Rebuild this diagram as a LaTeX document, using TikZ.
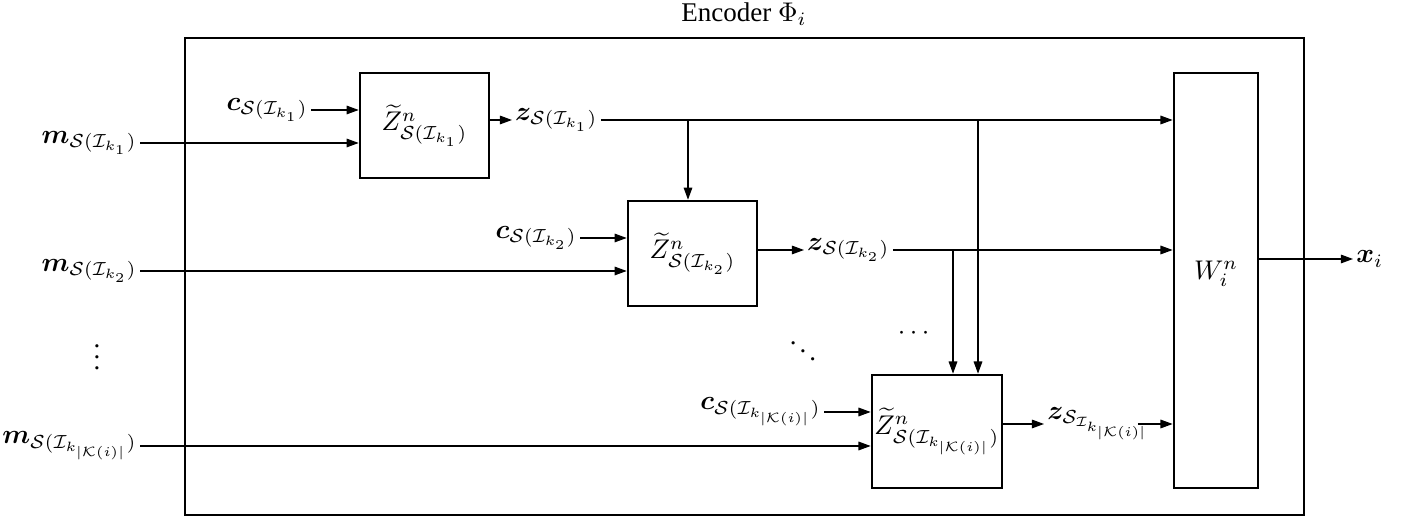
\documentclass[tikz,border=0pt]{standalone}
\usepackage{amsmath,amssymb,bm}
\usepackage{fontspec}
\setmainfont{Liberation Serif}
\usetikzlibrary{arrows.meta}

\begin{document}
\begin{tikzpicture}[x=0.37pt,y=-0.37pt,
    blk/.style={draw,line width=1pt,inner sep=0pt},
    lbl/.style={inner sep=1pt},
    arr/.style={-{Triangle[length=4.5pt,width=3.2pt]}}]
  \useasboundingbox (0,0) rectangle (1415,516);

  % outer encoder frame
  \draw[line width=1pt] (185,38) rectangle (1304,515);
  \node (enc) at (744,14) {Encoder $\Phi_i$};

  % blocks
  \node[blk,minimum width=47.7pt,minimum height=38.8pt] (b1) at (424.5,125.5)
    {$\widetilde{Z}^n_{\mathcal{S}(\mathcal{I}_{k_1})}$};
  \node[blk,minimum width=47.7pt,minimum height=38.8pt] (b2) at (692.5,253.5)
    {$\widetilde{Z}^n_{\mathcal{S}(\mathcal{I}_{k_2})}$};
  \node[blk,minimum width=48.1pt,minimum height=41.8pt] (b3) at (937,431.5)
    {$\widetilde{Z}^n_{\mathcal{S}(\mathcal{I}_{k_{|\mathcal{K}(i)|}})}$};
  \node[blk,minimum width=31.1pt,minimum height=153.5pt] (w) at (1216,280.5) {};
  \node (wl) at (1216,274) {$W^n_i$};

  % inputs
  \node[lbl,anchor=east] (m1) at (140,143) {$\bm{m}_{\mathcal{S}(\mathcal{I}_{k_1})}$};
  \node[lbl,anchor=east] (m2) at (140,271) {$\bm{m}_{\mathcal{S}(\mathcal{I}_{k_2})}$};
  \node[lbl,anchor=east] (m3) at (140,446) {$\bm{m}_{\mathcal{S}(\mathcal{I}_{k_{|\mathcal{K}(i)|}})}$};
  \node (vd) at (97,349) {$\vdots$};
  \node[lbl,anchor=east] (c1) at (311,110) {$\bm{c}_{\mathcal{S}(\mathcal{I}_{k_1})}$};
  \node[lbl,anchor=east] (c2) at (580,238) {$\bm{c}_{\mathcal{S}(\mathcal{I}_{k_2})}$};
  \node[lbl,anchor=east] (c3) at (824,412) {$\bm{c}_{\mathcal{S}(\mathcal{I}_{k_{|\mathcal{K}(i)|}})}$};

  % outputs
  \node[lbl,anchor=west] (z1) at (512,120) {$\bm{z}_{\mathcal{S}(\mathcal{I}_{k_1})}$};
  \node[lbl,anchor=west] (z2) at (804,250) {$\bm{z}_{\mathcal{S}(\mathcal{I}_{k_2})}$};
  \node[lbl,anchor=west] (z3) at (1044,424) {$\bm{z}_{\mathcal{S}_{\mathcal{I}_{k_{|\mathcal{K}(i)|}}}}$};
  \node[lbl,anchor=west] (x) at (1353,259) {$\bm{x}_i$};
  \node (dd) at (803,343) {$\ddots$};
  \node (cd) at (916,334) {$\cdots$};

  % connectors
  \draw[arr] (m1.east) -- (m1.east -| b1.west);
  \draw[arr] (m2.east) -- (m2.east -| b2.west);
  \draw[arr] (m3.east) -- (m3.east -| b3.west);
  \draw[arr] (c1.east) -- (c1.east -| b1.west);
  \draw[arr] (c2.east) -- (c2.east -| b2.west);
  \draw[arr] (c3.east) -- (c3.east -| b3.west);

  \draw[arr] (z1.west -| b1.east) -- (z1.west);
  \draw[arr] (z2.west -| b2.east) -- (z2.west);
  \draw[arr] (z3.west -| b3.east) -- (z3.west);
  \draw[arr] (z1.east) -- (z1.east -| w.west);
  \draw[arr] (z2.east) -- (z2.east -| w.west);
  \draw[arr] ([xshift=-6pt]z3.east) -- (z3.east -| w.west);
  \draw[arr] (w.east |- x.west) -- (x.west);

  % feedback branches
  \coordinate (t1) at (688,120);
  \coordinate (t2) at (978,120);
  \coordinate (t3) at (953,250);
  \draw[arr] (t1 |- z1.east) -- (t1 |- b2.north);
  \draw[arr] (t2 |- z1.east) -- (t2 |- b3.north);
  \draw[arr] (t3 |- z2.east) -- (t3 |- b3.north);
\end{tikzpicture}
\end{document}
